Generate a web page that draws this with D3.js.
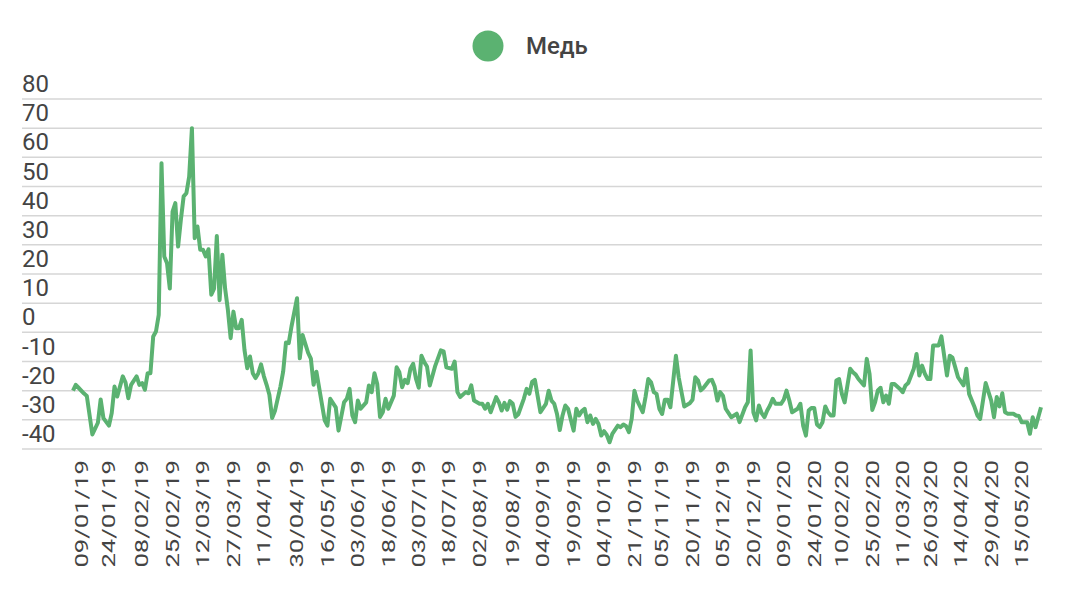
<!DOCTYPE html>
<html><head><meta charset="utf-8">
<script src="https://cdn.jsdelivr.net/npm/d3@7"></script>
<style>body{margin:0;background:#fff;} svg{display:block;font-family:Roboto, "Noto Sans", sans-serif;}</style>
</head><body><svg id="c" width="1082" height="596"></svg>
<script>
const seriesName = "Медь";
const yTicks = [80, 70, 60, 50, 40, 30, 20, 10, 0, -10, -20, -30, -40];
const tickLabels = ["09/01/19","24/01/19","08/02/19","25/02/19","12/03/19","27/03/19","11/04/19","30/04/19","16/05/19","03/06/19","18/06/19","03/07/19","18/07/19","02/08/19","19/08/19","04/09/19","19/09/19","04/10/19","21/10/19","05/11/19","20/11/19","05/12/19","20/12/19","09/01/20","24/01/20","10/02/20","25/02/20","11/03/20","26/03/20","14/04/20","29/04/20","15/05/20"];
const tickIdx = [3,13,25,36,47,58,69,81,92,103,114,125,136,147,159,170,181,192,203,213,224,235,246,257,268,278,289,300,310,321,332,343];
const lastIdx = 350;
const days = [0,1,2,4,5,7,9,10,11,13,14,15,16,18,19,20,21,23,24,25,26,27,28,29,30,31,32,33,34,35,36,37,38,39,40,41,42,43,44,45,46,47,48,49,50,51,52,53,54,55,56,57,58,59,60,61,62,63,64,65,66,67,68,69,70,71,72,73,75,76,77,78,79,81,82,83,85,86,87,88,89,91,92,93,95,96,98,99,100,101,102,103,104,106,107,108,109,110,111,112,113,114,116,117,118,119,120,121,122,123,124,125,126,127,128,129,130,131,133,134,135,137,138,139,140,142,143,144,145,147,148,149,150,151,153,154,155,156,157,158,159,160,161,163,164,165,166,167,169,171,172,173,174,175,176,177,178,179,181,182,183,184,185,186,187,188,189,190,191,192,193,194,195,197,198,199,200,201,202,203,204,206,207,208,209,210,211,212,213,214,215,216,218,219,221,223,224,225,226,227,228,230,231,232,233,234,235,236,238,239,240,241,243,244,245,246,247,248,249,250,251,252,253,254,256,257,258,259,260,262,263,264,265,266,267,268,269,270,271,272,273,274,275,276,277,278,279,281,282,283,284,286,287,288,289,290,291,292,293,294,295,296,297,299,300,301,302,304,305,306,307,308,309,310,311,313,314,316,317,318,319,320,322,323,324,326,327,328,330,332,333,334,335,336,337,338,340,341,342,343,345,346,347,348,350];
const values = [-20,-18,-19,-21,-21.8,-35,-31,-23,-29.4,-32,-27.7,-18.6,-22,-15.1,-17.2,-22.6,-18,-15.1,-18,-17.4,-19.7,-14,-14,-1.4,0.3,6,58,26,23.7,15,41.4,44.3,29.4,38.6,46.6,47.7,53.4,70,32.3,36.3,28.3,28.3,26,28.5,12.9,15,33,11,26.6,15,7.7,-2,7.1,1.4,1.4,4.3,-6,-12.3,-8.3,-14,-15.7,-14,-11,-15,-18,-21.4,-29.4,-27,-18.6,-13.4,-3.5,-3.7,2,11.7,-8.9,-0.9,-7,-9,-18,-13.5,-19,-30.2,-32,-22.8,-25.7,-33.7,-24,-22.8,-19.4,-28.5,-30.8,-23.4,-26.2,-24,-18.2,-20.5,-14,-17.7,-29,-27.4,-22.8,-26.2,-21.7,-12,-13.7,-18.8,-16.3,-17.4,-12.5,-10.8,-15.9,-19,-8,-10.2,-11.7,-18.2,-14.8,-11.4,-6.2,-6.5,-12,-12.5,-10,-20.5,-22.2,-20.5,-20.9,-18.2,-23.4,-24.5,-24.5,-26.2,-24.5,-27.4,-22.2,-24,-26.8,-24.2,-26.5,-23.6,-24.5,-29,-28.1,-22.8,-19.4,-21.1,-17,-16.3,-27.4,-24.5,-20,-23.4,-24.5,-28,-33.5,-28.5,-25.1,-26.2,-33.7,-26.2,-28.5,-27,-26.2,-30.8,-28.5,-31.4,-29.7,-31.4,-35.4,-33.9,-35.2,-37.7,-34.8,-32,-32.5,-31.6,-32.2,-34.2,-29.7,-20,-23.4,-27.4,-22.2,-16,-17.1,-20.5,-21.1,-26.2,-28,-23.1,-23.1,-25.7,-8,-15.4,-25.4,-24.3,-23.1,-15.4,-16.5,-19.9,-19,-16.5,-16.3,-18.6,-23.4,-20.5,-21.7,-26.2,-29.1,-28.5,-27.9,-30.8,-25.7,-24,-6.2,-27.4,-30.2,-25.1,-27.7,-29.1,-26.8,-25.1,-22.8,-24.5,-24.5,-23.1,-20,-23.4,-27.4,-26.2,-24.5,-32,-35.4,-26.8,-25.9,-25.9,-31.6,-32.5,-30.8,-25.4,-27.4,-28.5,-28.5,-16.5,-16,-21.1,-24,-12.5,-13.7,-14.5,-16,-18.2,-9.1,-14.2,-26.6,-24,-19.9,-19,-24,-21.7,-24.5,-17.7,-17.7,-19.4,-20.5,-18.2,-17.4,-12.5,-7.4,-14.8,-11.4,-14.2,-16,-16,-4.5,-4.5,-1.4,-14.8,-8,-8.7,-12,-15.4,-18.2,-12.5,-21.1,-25.7,-28.5,-29.7,-17.4,-23.4,-29.1,-22.2,-25.4,-20.9,-27.4,-27.9,-27.9,-28.5,-28.7,-30.8,-30.8,-34.8,-29.1,-32.5,-25.7];

const color = "#5bb271";
const textColor = "#444444";
const svg = d3.select("#c");
const gridLeft = 22, gridRight = 1042;
const x = d3.scaleLinear().domain([0, lastIdx]).range([73, 1041]);
const y = d3.scaleLinear().domain([-40, 80]).range([449, 99]);

// gridlines
svg.append("g").selectAll("line").data(yTicks).join("line")
  .attr("x1", gridLeft).attr("x2", gridRight)
  .attr("y1", d => y(d)).attr("y2", d => y(d))
  .attr("stroke", "#d6d6d6").attr("stroke-width", 1.5);

// y labels (drawn inside, above each gridline)
svg.append("g").selectAll("text").data(yTicks).join("text")
  .attr("x", gridLeft).attr("y", d => y(d) - 7)
  .attr("font-size", 24).attr("fill", textColor)
  .text(d => d);

// line
const pts = days.map((d, i) => [d, values[i]]);
svg.append("path").datum(pts)
  .attr("d", d3.line().x(d => x(d[0])).y(d => y(d[1])))
  .attr("fill", "none").attr("stroke", color).attr("stroke-width", 4)
  .attr("stroke-linejoin", "round");

// x labels
const xl = svg.append("g").selectAll("g").data(tickLabels).join("g")
  .attr("transform", (d, i) => `translate(${x(tickIdx[i])},460) rotate(-90)`);
xl.append("text").attr("text-anchor", "end").attr("dominant-baseline", "central")
  .attr("font-size", 19).attr("fill", textColor)
  .attr("transform", "scale(1.35,1)")
  .text(d => d);

// legend
svg.append("circle").attr("cx", 488).attr("cy", 46).attr("r", 15.5).attr("fill", color);
svg.append("text").attr("x", 526).attr("y", 46).attr("dominant-baseline", "central")
  .attr("font-size", 24).attr("font-weight", 500).attr("fill", textColor).text(seriesName);
</script>
</body></html>
